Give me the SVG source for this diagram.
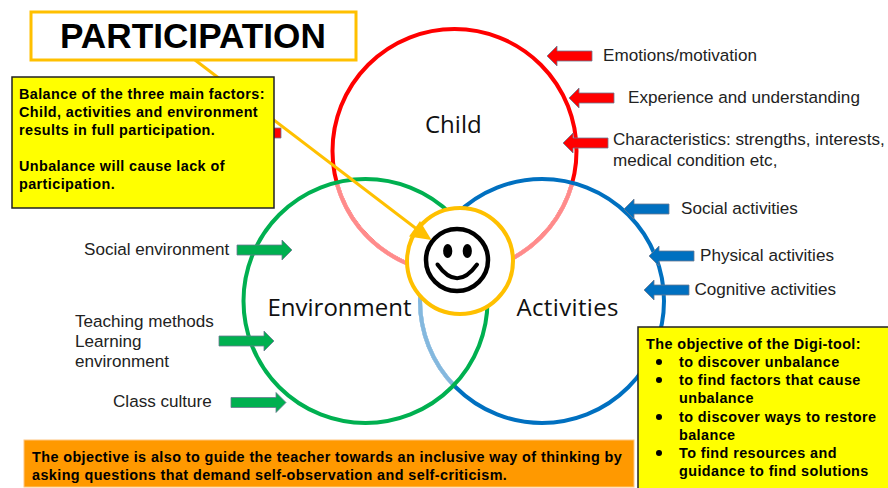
<svg xmlns="http://www.w3.org/2000/svg" width="888" height="488" viewBox="0 0 888 488">
<defs>
<style>
text{font-family:"Liberation Sans",Arial,sans-serif;fill:#222}
.b{font-weight:700;font-size:14.4px;fill:#000;letter-spacing:.41px}
.l{font-size:17.1px}
.c{font-family:"Open Sans","Noto Sans",sans-serif;font-size:24px;fill:#111}
.ring{fill:none;stroke-width:4}
.a{stroke:#6b7a90;stroke-width:.8}
</style>
<path id="left" d="M0 0L10 -10V-5H45V5H10V10Z"/>
<path id="right" d="M0 -5H45V-10L55 0L45 10V5H0Z"/>
</defs>
<rect width="888" height="488" fill="#fff"/>
<g id="connectors">
<circle class="ring" cx="454.5" cy="151" r="122" stroke="#ff0000"/>
<path class="ring" d="M336.6 182.4A122 122 0 0 0 572.3 182.8" stroke="#fff"/>
<path class="ring" d="M336.6 182.4A122 122 0 0 0 572.3 182.8" stroke="#ff8b8b"/>
<circle class="ring" cx="542" cy="301" r="122" stroke="#0070c0"/>
<path class="ring" d="M453.5 217A122 122 0 0 0 453.5 385" stroke="#fff"/>
<path class="ring" d="M453.5 217A122 122 0 0 0 453.5 385" stroke="#84b8de"/>
<circle class="ring" cx="365.5" cy="301" r="122" stroke="#00b050"/>
</g>
<g id="node-center">
<circle cx="460" cy="261" r="53" fill="#fff" stroke="#ffc000" stroke-width="4"/>
<circle cx="457" cy="260" r="31" fill="none" stroke="#000" stroke-width="4.5"/>
<ellipse cx="447.7" cy="251" rx="4.6" ry="7"/>
<ellipse cx="467.3" cy="251" rx="4.6" ry="7"/>
<path d="M437.5 264.500Q457 292 477 264.500" fill="none" stroke="#000" stroke-width="4" stroke-linecap="round"/>
</g>
<g id="node-circle-labels">
<text class="c" x="425" y="133">Child</text>
<text class="c" x="267.500" y="316">Environment</text>
<text class="c" x="516.500" y="316" letter-spacing=".35">Activities</text>
</g>
<g id="arrows">
<path class="a" fill="#ff0000" d="M245 128H281V138H245Z"/>
<use class="a" href="#left" fill="#ff0000" x="547" y="56"/>
<use class="a" href="#left" fill="#ff0000" x="569" y="98"/>
<use class="a" href="#left" fill="#ff0000" x="563" y="143"/>
<use class="a" href="#left" fill="#0070c0" x="624" y="209"/>
<use class="a" href="#left" fill="#0070c0" x="649" y="256"/>
<use class="a" href="#left" fill="#0070c0" x="644" y="290"/>
<use class="a" href="#right" fill="#00b050" x="237" y="250"/>
<use class="a" href="#right" fill="#00b050" x="219" y="341"/>
<use class="a" href="#right" fill="#00b050" x="231" y="402.500"/>
</g>
<g id="labels">
<text class="l" x="603" y="61">Emotions/motivation</text>
<text class="l" x="628" y="103">Experience and understanding</text>
<text class="l" x="613" y="145">Characteristics: strengths, interests,</text>
<text class="l" x="613" y="166">medical condition etc,</text>
<text class="l" x="681" y="214">Social activities</text>
<text class="l" x="700" y="261">Physical activities</text>
<text class="l" x="694.500" y="295">Cognitive activities</text>
<text class="l" x="84" y="255">Social environment</text>
<text class="l" x="75" y="327">Teaching methods</text>
<text class="l" x="75" y="347">Learning</text>
<text class="l" x="75" y="367">environment</text>
<text class="l" x="113" y="407">Class culture</text>
</g>
<g id="node-title">
<path d="M195 60L420 231.500" fill="none" stroke="#ffc000" stroke-width="3"/>
<path d="M431.500 240L409 236.500L420 221Z" fill="#ffc000"/>
<rect x="31" y="12" width="325" height="48" fill="#fff" stroke="#ffc000" stroke-width="3"/>
<text x="60" y="48" font-size="35.200" font-weight="700" style="fill:#000">PARTICIPATION</text>
</g>
<g id="node-balance">
<rect x="12" y="77" width="262" height="131" fill="#ffff00" stroke="#222" stroke-width="1.500"/>
<text class="b" x="19" y="99">Balance of the three main factors:</text>
<text class="b" x="19" y="117">Child, activities and environment</text>
<text class="b" x="19" y="135">results in full participation.</text>
<text class="b" x="19" y="171">Unbalance will cause lack of</text>
<text class="b" x="19" y="189">participation.</text>
</g>
<g id="node-orange">
<rect x="24" y="440" width="610" height="47" fill="#ff9900" stroke="#ffc680" stroke-width="1"/>
<text class="b" x="32" y="462">The objective is also to guide the teacher towards an inclusive way of thinking by</text>
<text class="b" x="32" y="480">asking questions that demand self-observation and self-criticism.</text>
</g>
<g id="node-objective">
<rect x="638" y="327" width="260" height="170" fill="#ffff00" stroke="#222" stroke-width="1.500"/>
<text class="b" x="646" y="349">The objective of the Digi-tool:</text>
<circle cx="659" cy="362" r="3"/><circle cx="659" cy="380" r="3"/><circle cx="659" cy="417" r="3"/><circle cx="659" cy="453" r="3"/>
<text class="b" x="679" y="367">to discover unbalance</text>
<text class="b" x="679" y="385">to find factors that cause</text>
<text class="b" x="679" y="403">unbalance</text>
<text class="b" x="679" y="422">to discover ways to restore</text>
<text class="b" x="679" y="440">balance</text>
<text class="b" x="679" y="458">To find resources and</text>
<text class="b" x="679" y="476">guidance to find solutions</text>
</g>
</svg>
